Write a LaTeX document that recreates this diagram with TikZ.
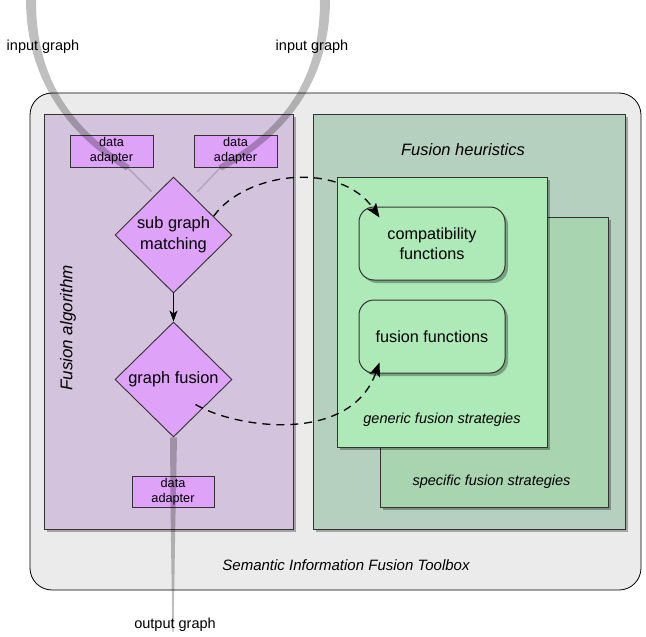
\documentclass[tikz,border=0pt]{standalone}
\usepackage{fontspec}
\setmainfont{Liberation Sans}
\usetikzlibrary{shapes.geometric,arrows.meta,shadows,calc}
\definecolor{outerfill}{HTML}{EBEBEB}
\definecolor{algofill}{HTML}{D3C3DC}
\definecolor{violetnode}{HTML}{DEA2F8}
\definecolor{heurfill}{HTML}{B6D0C0}
\definecolor{genfill}{HTML}{ADEAB8}
\definecolor{specfill}{HTML}{A8D4B0}
\definecolor{edgegray}{HTML}{333333}
\tikzset{
  boxshadow/.style={drop shadow={shadow xshift=3pt,shadow yshift=-3pt,opacity=0.3,fill=black}},
  panel/.style={draw=edgegray,line width=1pt,inner sep=0pt,boxshadow},
  adapter/.style={draw=edgegray,line width=0.9pt,fill=violetnode,inner sep=0pt,
    minimum width=83pt,minimum height=32pt,align=center,
    font=\fontsize{12.7}{15}\selectfont},
  decision/.style={diamond,draw=edgegray,line width=0.9pt,fill=violetnode,inner sep=0pt,
    minimum width=117pt,minimum height=116pt,align=center,
    font=\fontsize{16.4}{21}\selectfont},
  funcbox/.style={draw=edgegray,line width=1pt,fill=genfill,rounded corners=15pt,
    minimum width=146pt,minimum height=73pt,inner sep=0pt,align=center,
    font=\fontsize{16.2}{20}\selectfont,boxshadow},
  plainlabel/.style={font=\fontsize{14.5}{17}\selectfont,inner sep=0pt},
  italiclabel/.style={font=\fontsize{14.5}{17}\selectfont\itshape,inner sep=0pt},
  flowline/.style={fill=black,fill opacity=0.25},
  flowtail/.style={draw=black,draw opacity=0.15,line width=1.5pt},
  dashedarrow/.style={line width=1.3pt,dash pattern=on 8pt off 6pt,
    -{Stealth[length=14pt,width=11pt,inset=3pt]}},
}
\begin{document}
\begin{tikzpicture}[x=1pt,y=-1pt]
\useasboundingbox (0,0) rectangle (646,637);
% outer toolbox
\node[draw=black,line width=0.8pt,fill=outerfill,rounded corners=22pt,
  minimum width=611pt,minimum height=497pt,inner sep=0pt] (toolbox) at (335.5,341.5) {};
% panels
\node[panel,fill=algofill,minimum width=249pt,minimum height=415pt] (algo) at (168.5,321.5) {};
\node[panel,fill=heurfill,minimum width=312pt,minimum height=415pt] (heur) at (469,321.5) {};
\node[panel,fill=specfill,minimum width=228pt,minimum height=290pt] (spec) at (494,362) {};
\node[panel,fill=genfill,minimum width=210pt,minimum height=270pt] (gen) at (442,312) {};
\node[funcbox] (cf) at (432,243.5) {compatibility\\functions};
\node[funcbox] (ff) at (432,336.5) {fusion functions};
% adapters
\node[adapter] (da1) at (111.5,151) {data\\adapter};
\node[adapter] (da2) at (235.5,151) {data\\adapter};
\node[adapter,minimum width=82pt,minimum height=31pt] (da3) at (173,491.5) {data\\adapter};
% decisions
\node[decision] (sgm) at (173.5,235) {sub graph\\matching};
\node[decision,minimum height=115pt] (gf) at (173.5,379.5) {graph fusion};
% labels
\node[font=\fontsize{16.5}{20}\selectfont\itshape,inner sep=0pt] (heurlabel) at (463,150) {Fusion heuristics};
\node[italiclabel] (genlabel) at (442,420) {generic fusion strategies};
\node[italiclabel] (speclabel) at (491.5,482) {specific fusion strategies};
\node[font=\fontsize{15}{18}\selectfont\itshape,inner sep=0pt] (tblabel) at (346,565) {Semantic Information Fusion Toolbox};
\node[font=\fontsize{17}{20}\selectfont\itshape,inner sep=0pt,rotate=90] (algolabel) at (68,328) {Fusion algorithm};
\node[plainlabel] (in1) at (43,47) {input graph};
\node[plainlabel] (in2) at (312,47) {input graph};
\node[plainlabel] (out) at (175,625) {output graph};
% connectors
\draw[line width=1pt,-{Stealth[length=11pt,width=8pt,inset=3pt]}] (sgm.south) -- (gf.north);
\coordinate (cfend) at ($(cf.north west)+(21,11)$);
\coordinate (ffend) at ($(ff.south west)+(21,-11)$);
\draw[dashedarrow] (sgm.25) .. controls (245,172) and (340,160) .. (cfend);
\draw[dashedarrow] ($(gf.center)+(22,25)$) .. controls (235,428) and (350,445) .. (ffend);
% flows (input / output graphs)
\coordinate (lmid) at (128,168);
\coordinate (rmid) at (220,168);
\fill[flowline] (26,0) .. controls (26.5,85) and (73.8,137.8) .. (126.1,170.4)
  -- (129.9,165.6) .. controls (78.2,132.2) and (35.5,85) .. (36,0) -- cycle;
\draw[flowtail] (lmid) -- ($(sgm.north)+(-22,15)$);
\fill[flowline] (330,0) .. controls (329.5,85) and (282.2,137.8) .. (221.8,170.4)
  -- (218.2,165.6) .. controls (277.8,132.2) and (320.5,85) .. (320,0) -- cycle;
\draw[flowtail] (rmid) -- ($(sgm.north)+(24,15)$);
\coordinate (outend) at (173,632);
\fill[flowline] ($(gf.south)+(-3.5,0)$) -- ($(gf.south)+(3.5,0)$)
  -- (175.2,529) -- ($(outend)+(0.6,0)$) -- ($(outend)+(-0.6,0)$) -- (170.8,529) -- cycle;
\end{tikzpicture}
\end{document}
